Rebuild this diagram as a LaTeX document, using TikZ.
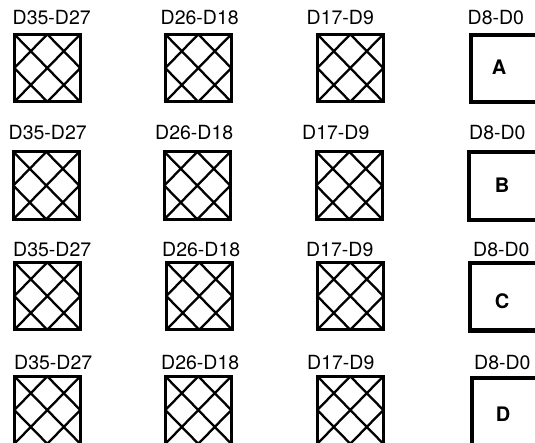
\documentclass[tikz,border=0pt]{standalone}
\usepackage{fontspec}
\setmainfont{TeX Gyre Heros}
\begin{document}
\begin{tikzpicture}[x=1pt,y=-1pt,
  hatchbox/.style={draw, line width=2.6pt, minimum width=66pt, minimum height=67.5pt, inner sep=0pt, anchor=north west,
    path picture={
      \draw[line width=2.3pt]
        (path picture bounding box.north west) -- (path picture bounding box.south east)
        (path picture bounding box.north east) -- (path picture bounding box.south west)
        (path picture bounding box.north) -- (path picture bounding box.west) -- (path picture bounding box.south) -- (path picture bounding box.east) -- cycle;
    }},
  plainbox/.style={draw, line width=4pt, minimum width=74pt, minimum height=67.5pt, inner sep=0pt, anchor=north west},
  lbl/.style={anchor=base west, inner sep=0pt, font=\fontsize{19.5}{23}\selectfont},
  letter/.style={inner sep=0pt, font=\fontsize{20}{24}\selectfont\bfseries}
]
\useasboundingbox (0,0) rectangle (535,443);
\clip (0,0) rectangle (535,443);
% Row 1
\node[lbl] (t11) at (12.5,25) {D35-D27};
\node[lbl] (t12) at (160.5,25) {D26-D18};
\node[lbl] (t13) at (306.5,25) {D17-D9};
\node[lbl] (t14) at (467.5,25) {D8-D0};
\node[hatchbox] (b11) at (13,33) {};
\node[hatchbox] (b12) at (164,33) {};
\node[hatchbox] (b13) at (316,33) {};
\node[plainbox] (b14) at (469,33) {};
\node[letter] (la) at (499,67) {A};
% Row 2
\node[lbl] (t21) at (8.5,140) {D35-D27};
\node[lbl] (t22) at (155,140) {D26-D18};
\node[lbl] (t23) at (302,140) {D17-D9};
\node[lbl] (t24) at (469,140) {D8-D0};
\node[hatchbox] (b21) at (12,150.5) {};
\node[hatchbox] (b22) at (163,150.5) {};
\node[hatchbox] (b23) at (315,150.5) {};
\node[plainbox] (b24) at (467,150.5) {};
\node[letter] (lb) at (502,185) {B};
% Row 3
\node[lbl] (t31) at (13,256.5) {D35-D27};
\node[lbl] (t32) at (162,256.5) {D26-D18};
\node[lbl] (t33) at (306,256.5) {D17-D9};
\node[lbl] (t34) at (473,256.5) {D8-D0};
\node[hatchbox] (b31) at (13,261) {};
\node[hatchbox] (b32) at (165,261) {};
\node[hatchbox] (b33) at (316,261) {};
\node[plainbox] (b34) at (468,261) {};
\node[letter] (lc) at (502,301) {C};
% Row 4
\node[lbl] (t41) at (14,369) {D35-D27};
\node[lbl] (t42) at (161,369) {D26-D18};
\node[lbl] (t43) at (307,369) {D17-D9};
\node[lbl] (t44) at (474,369) {D8-D0};
\node[hatchbox] (b41) at (13,375) {};
\node[hatchbox] (b42) at (164,375) {};
\node[hatchbox] (b43) at (316,375) {};
\node[plainbox] (b44) at (470,376) {};
\node[letter] (ld) at (503,414) {D};
\end{tikzpicture}
\end{document}
